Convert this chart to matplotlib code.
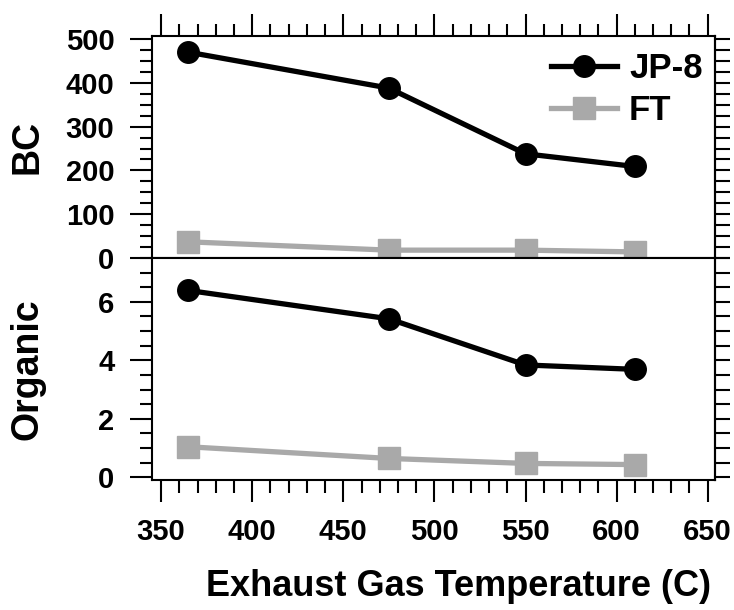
import numpy as np
import matplotlib
matplotlib.use("Agg")
import matplotlib.pyplot as plt
from matplotlib.ticker import MultipleLocator

plt.rcParams['font.family'] = ['Liberation Sans', 'DejaVu Sans']
plt.rcParams['font.weight'] = 'bold'

# exhaust gas temperature (C)
temp = [365, 475, 550, 610]
# BC
bc_jp8 = [470, 388, 238, 209]
bc_ft = [37, 18, 18, 14]
# Organic
org_jp8 = [6.39, 5.42, 3.84, 3.69]
org_ft = [1.04, 0.64, 0.47, 0.43]

gray = '#a9a9a9'
lw = 3.8

fig = plt.figure(figsize=(7.34, 6.10), dpi=100)
ax1 = fig.add_axes([0.2071, 0.577, 0.767, 0.364])
ax2 = fig.add_axes([0.2071, 0.213, 0.767, 0.364])

ax1.plot(temp, bc_jp8, color='black', lw=lw, marker='o', ms=15.5, label='JP-8')
ax1.plot(temp, bc_ft, color=gray, lw=lw, marker='s', ms=16.5, label='FT')
ax2.plot(temp, org_jp8, color='black', lw=lw, marker='o', ms=15.5)
ax2.plot(temp, org_ft, color=gray, lw=lw, marker='s', ms=16.5)

for ax in (ax1, ax2):
    ax.set_xlim(345, 654)
    for s in ax.spines.values():
        s.set_linewidth(1.5)
    ax.xaxis.set_major_locator(MultipleLocator(50))
    ax.xaxis.set_minor_locator(MultipleLocator(10))
    ax.tick_params(which='major', length=16, width=1.5, labelsize=21, direction='out')
    ax.tick_params(which='minor', length=9, width=1.5, direction='out')
    ax.tick_params(axis='y', which='major', pad=11)

ax1.set_ylim(0, 507)
ax1.yaxis.set_major_locator(MultipleLocator(100))
ax1.yaxis.set_minor_locator(MultipleLocator(25))
ax1.tick_params(axis='x', which='both', top=True, bottom=False, labeltop=False, labelbottom=False)

ax2.set_ylim(-0.1, 7.5)
ax2.yaxis.set_major_locator(MultipleLocator(2))
ax2.yaxis.set_minor_locator(MultipleLocator(0.5))
ax2.tick_params(axis='x', which='both', top=False, bottom=True)
ax2.tick_params(axis='x', which='major', pad=11)

# right-hand ticks, all the same length
for ax, step in ((ax1, 25), (ax2, 0.5)):
    sec = ax.secondary_yaxis('right')
    sec.yaxis.set_major_locator(MultipleLocator(step))
    sec.tick_params(length=11, width=1.5, labelright=False)
    sec.spines['right'].set_linewidth(1.5)

ax1.set_ylabel('BC', fontsize=27, fontweight='bold')
ax2.set_ylabel('Organic', fontsize=27, fontweight='bold')
ax1.yaxis.set_label_coords(-0.19, 0.5)
ax2.yaxis.set_label_coords(-0.19, 0.5)
ax2.set_xlabel('Exhaust Gas Temperature (C)', fontsize=26, fontweight='bold')
ax2.xaxis.set_label_coords(0.545, -0.40)

ax1.legend(loc='upper right', frameon=False, fontsize=25, handlelength=1.9,
           handletextpad=0.35, labelspacing=0.25, borderaxespad=0.2,
           bbox_to_anchor=(1.015, 1.02))

fig.savefig('out.png', dpi=100)
